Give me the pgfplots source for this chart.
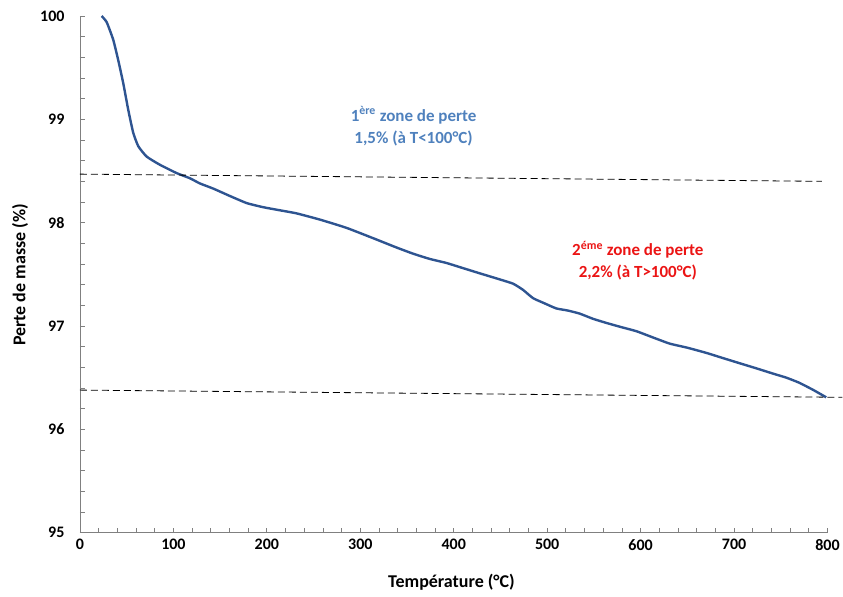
\documentclass[border=0pt]{standalone}
\usepackage{pgfplots}
\pgfplotsset{compat=1.18}
\usepackage{fontspec}
\setmainfont{Carlito}
\definecolor{curve}{RGB}{46,84,145}
\definecolor{bluetxt}{RGB}{79,129,189}
\definecolor{redtxt}{RGB}{235,20,20}
\begin{document}
\begin{tikzpicture}
\begin{axis}[
  scale only axis, width=748pt, height=517pt,
  xmin=0, xmax=800, ymin=95, ymax=100,
  axis lines*=left,
  axis line style={draw=gray, line width=0.9pt},
  xtick={0,100,...,800}, ytick={95,96,...,100},
  minor x tick num=4, minor y tick num=4,
  tick align=inside,
  major tick length=5pt, minor tick length=5pt,
  every tick/.style={draw=gray, line width=0.8pt},
  /pgf/number format/assume math mode=true,
  ticklabel style={font=\fontsize{16}{18}\selectfont\bfseries},
  xticklabel style={yshift=-3pt},
  yticklabel style={xshift=-12pt},
  xlabel={Température (°C)}, ylabel={Perte de masse (\%)},
  every axis x label/.style={at={(rel axis cs:0.497,-0.095)}, anchor=center, font=\fontsize{18}{20}\selectfont\bfseries},
  every axis y label/.style={at={(rel axis cs:-0.080,0.499)}, anchor=center, rotate=90, font=\fontsize{18}{20}\selectfont\bfseries},
  clip=false,
]
\addplot[curve, line width=2.4pt, smooth, tension=0.3] coordinates {
(23.2,100.0) (28.6,99.94) (35.6,99.77) (41.0,99.57) (46.3,99.35) (51.7,99.09) (57.0,98.87) (62.4,98.74) (71.3,98.64) (85.6,98.56) (103.4,98.48) (117.6,98.43) (128.3,98.38) (142.6,98.33) (160,98.26) (178.3,98.19) (196,98.15) (213.9,98.12) (231.8,98.09) (256.7,98.03) (285.2,97.95) (313.7,97.85) (338.7,97.76) (356.5,97.70) (374,97.65) (392.2,97.61) (410,97.56) (427.8,97.51) (446,97.46) (463.4,97.41) (474.1,97.35) (484.8,97.27) (497,97.22) (509.8,97.17) (522,97.15) (534.8,97.12) (549,97.07) (563.3,97.03) (579,96.99) (595.4,96.95) (613,96.89) (631.0,96.83) (650,96.79) (670.3,96.74) (688,96.69) (705.9,96.64) (724,96.59) (741.5,96.54) (756,96.50) (770.0,96.45) (785,96.38) (798.6,96.31)
};
\addplot[black, line width=0.8pt, dash pattern=on 7pt off 4pt] coordinates {(0,98.47) (794,98.40)};
\addplot[black, line width=0.8pt, dash pattern=on 7pt off 4pt] coordinates {(0,96.38) (816,96.31)};
\node[text=bluetxt, font=\fontsize{17}{20}\selectfont\bfseries, align=center] at (axis cs:357,98.935) {1\textsuperscript{ère} zone de perte\\[2pt]1,5\% (à T<100°C)};
\node[text=redtxt, font=\fontsize{17}{20}\selectfont\bfseries, align=center] at (axis cs:597,97.63) {2\textsuperscript{éme} zone de perte\\[2pt]2,2\% (à T>100°C)};
\path (rel axis cs:-0.107,-0.124) rectangle (rel axis cs:1.020,1.031);
\end{axis}
\end{tikzpicture}
\end{document}
